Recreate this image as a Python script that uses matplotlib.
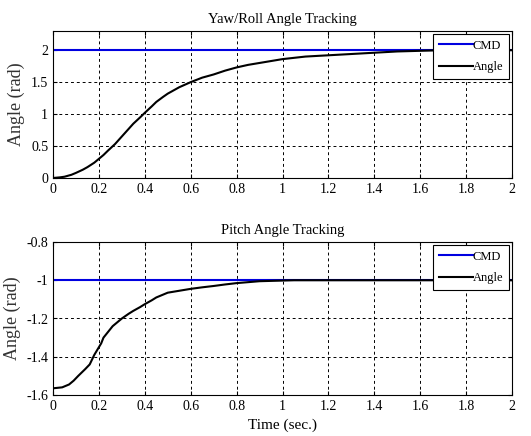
import numpy as np
import matplotlib.pyplot as plt

plt.rcParams['font.family'] = ['Liberation Serif', 'DejaVu Serif']

# yaw/roll response
t_yaw = [0, 0.03, 0.05, 0.08, 0.1, 0.13, 0.15, 0.18, 0.2, 0.22, 0.24, 0.27, 0.3, 0.33,
         0.35, 0.38, 0.4, 0.43, 0.45, 0.48, 0.5, 0.55, 0.6, 0.65, 0.7, 0.75, 0.8, 0.85,
         0.9, 0.95, 1.0, 1.1, 1.2, 1.3, 1.4, 1.5, 1.6, 1.7, 2.0]
yaw = [0.0, 0.01, 0.02, 0.05, 0.08, 0.13, 0.17, 0.24, 0.3, 0.36, 0.43, 0.53, 0.65, 0.77,
       0.85, 0.95, 1.02, 1.12, 1.19, 1.27, 1.32, 1.42, 1.5, 1.57, 1.62, 1.68, 1.73, 1.77,
       1.8, 1.83, 1.86, 1.9, 1.92, 1.94, 1.96, 1.98, 1.99, 2.0, 2.0]
yaw_cmd = 2.0

# pitch response
t_pitch = [0, 0.04, 0.07, 0.09, 0.11, 0.14, 0.16, 0.18, 0.19, 0.21, 0.22, 0.24, 0.26,
           0.28, 0.3, 0.33, 0.35, 0.38, 0.4, 0.43, 0.45, 0.48, 0.5, 0.55, 0.6, 0.65,
           0.7, 0.75, 0.8, 0.9, 1.05, 2.0]
pitch = [-1.565, -1.56, -1.545, -1.525, -1.5, -1.465, -1.44, -1.39, -1.37, -1.33, -1.3,
         -1.27, -1.24, -1.22, -1.2, -1.175, -1.16, -1.14, -1.125, -1.105, -1.09, -1.075,
         -1.065, -1.055, -1.045, -1.037, -1.03, -1.022, -1.015, -1.005, -1.0, -1.0]
pitch_cmd = -1.0

xticks = np.arange(0, 2.01, 0.2)
xlabels = ['0', '0.2', '0.4', '0.6', '0.8', '1', '1.2', '1.4', '1.6', '1.8', '2']

fig = plt.figure(figsize=(5.31, 4.36), dpi=100)
ax1 = fig.add_axes([53/531, 1 - 178/436, 459/531, 147/436])
ax2 = fig.add_axes([53/531, 1 - 395/436, 459/531, 153/436])

panels = [
    (ax1, t_yaw, yaw, yaw_cmd, (0, 2.3), [0, 0.5, 1, 1.5, 2], ['0', '0.5', '1', '1.5', '2'],
     'Yaw/Roll Angle Tracking'),
    (ax2, t_pitch, pitch, pitch_cmd, (-1.6, -0.8), [-1.6, -1.4, -1.2, -1.0, -0.8],
     ['-1.6', '-1.4', '-1.2', '-1', '-0.8'], 'Pitch Angle Tracking'),
]

for ax, t, y, cmd, ylim, yt, ytl, title in panels:
    ax.plot([0, 2], [cmd, cmd], color='#0000e0', lw=1.5, label='CMD')
    ax.plot(t, y, color='black', lw=1.5, label='Angle')
    ax.set_xlim(0, 2)
    ax.set_ylim(*ylim)
    ax.set_xticks(xticks)
    ax.set_xticklabels(xlabels)
    ax.set_yticks(yt)
    ax.set_yticklabels(ytl)
    ax.grid(True, color='black', linestyle=(0, (3, 3)), lw=0.7)
    ax.tick_params(direction='in', top=True, right=True, labelsize=10, length=3)
    ax.set_ylabel('Angle (rad)', fontsize=13, color='#333333')
    ax.set_title(title, fontsize=10.5, pad=6)
    leg = ax.legend(loc='upper right', fontsize=9, frameon=True, fancybox=False,
                    edgecolor='black', framealpha=1, borderaxespad=0.25,
                    handlelength=2.7, labelspacing=0.75, borderpad=0.45, handletextpad=0.0)
    leg.get_frame().set_linewidth(0.8)
    for s in ax.spines.values():
        s.set_linewidth(0.8)

ax2.set_xlabel('Time (sec.)', fontsize=11)

fig.savefig('out.png', dpi=100)
